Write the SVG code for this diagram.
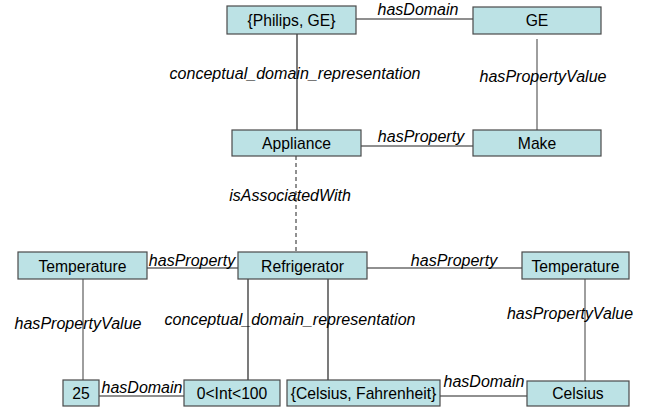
<svg xmlns="http://www.w3.org/2000/svg" width="646" height="408" viewBox="0 0 646 408">
<style>
.node rect{fill:#BCE2E5;stroke:#4a4a4a;stroke-width:1.2}
.node text{font-family:"Liberation Sans",Arial,sans-serif;font-size:15.7px;fill:#000;text-anchor:middle}
.lbl{font-family:"Liberation Sans",Arial,sans-serif;font-size:16px;font-style:italic;fill:#000;text-anchor:middle}
.c{stroke:#6a6a6a;stroke-width:1.3;fill:none}
.k{stroke:#222;stroke-width:1.2;fill:none}
.d{stroke:#222;stroke-width:1;stroke-dasharray:4,3;fill:none}
</style>
<rect width="646" height="408" fill="#fff"/>
<g id="connectors">
<line class="c" x1="356" y1="19" x2="473" y2="19"/>
<line class="k" x1="297" y1="34" x2="297" y2="130"/>
<line class="c" x1="537" y1="39" x2="537" y2="130"/>
<line class="c" x1="361" y1="146" x2="473" y2="146"/>
<line class="d" x1="296" y1="156" x2="296" y2="252"/>
<line class="c" x1="147" y1="268" x2="238" y2="268"/>
<line class="k" x1="367" y1="268" x2="522" y2="268"/>
<line class="c" x1="83" y1="279" x2="83" y2="380"/>
<line class="k" x1="248" y1="279" x2="248" y2="380"/>
<line class="k" x1="328" y1="279" x2="328" y2="380"/>
<line class="c" x1="585" y1="279" x2="585" y2="381"/>
<line class="k" x1="99" y1="396" x2="184" y2="396"/>
<line class="k" x1="440" y1="396" x2="527" y2="396"/>
<text class="lbl" x="418" y="15">hasDomain</text>
<text class="lbl" x="295" y="79" textLength="251" lengthAdjust="spacingAndGlyphs">conceptual_domain_representation</text>
<text class="lbl" x="543" y="82" textLength="127" lengthAdjust="spacingAndGlyphs">hasPropertyValue</text>
<text class="lbl" x="421" y="142">hasProperty</text>
<text class="lbl" x="290" y="201">isAssociatedWith</text>
<text class="lbl" x="192" y="266">hasProperty</text>
<text class="lbl" x="454" y="266">hasProperty</text>
<text class="lbl" x="78" y="329" textLength="127" lengthAdjust="spacingAndGlyphs">hasPropertyValue</text>
<text class="lbl" x="290" y="325" textLength="251" lengthAdjust="spacingAndGlyphs">conceptual_domain_representation</text>
<text class="lbl" x="570" y="319" textLength="126" lengthAdjust="spacingAndGlyphs">hasPropertyValue</text>
<text class="lbl" x="142" y="393">hasDomain</text>
<text class="lbl" x="484" y="387">hasDomain</text>
</g>
<g id="philips_ge" class="node"><rect x="227" y="6" width="129" height="28"/><text x="291.5" y="26">{Philips, GE}</text></g>
<g id="ge" class="node"><rect x="473" y="7" width="128" height="27"/><text x="537" y="26">GE</text></g>
<g id="appliance" class="node"><rect x="232" y="130" width="129" height="26"/><text x="296.5" y="148.5">Appliance</text></g>
<g id="make" class="node"><rect x="473" y="130" width="128" height="26"/><text x="537" y="148.5">Make</text></g>
<g id="temperature_left" class="node"><rect x="18" y="252" width="129" height="27"/><text x="82.5" y="271.5">Temperature</text></g>
<g id="refrigerator" class="node"><rect x="238" y="252" width="129" height="27"/><text x="302.5" y="271.5">Refrigerator</text></g>
<g id="temperature_right" class="node"><rect x="522" y="252" width="107" height="27"/><text x="575.5" y="271.5">Temperature</text></g>
<g id="v25" class="node"><rect x="63" y="380" width="36" height="26"/><text x="81" y="398.5">25</text></g>
<g id="int_range" class="node"><rect x="184" y="380" width="96" height="26"/><text x="232" y="398.5">0&lt;Int&lt;100</text></g>
<g id="celsius_fahrenheit" class="node"><rect x="287" y="380" width="153" height="26"/><text x="363.5" y="398.5">{Celsius, Fahrenheit}</text></g>
<g id="celsius" class="node"><rect x="527" y="381" width="102" height="25"/><text x="578" y="398.5">Celsius</text></g>
</svg>
